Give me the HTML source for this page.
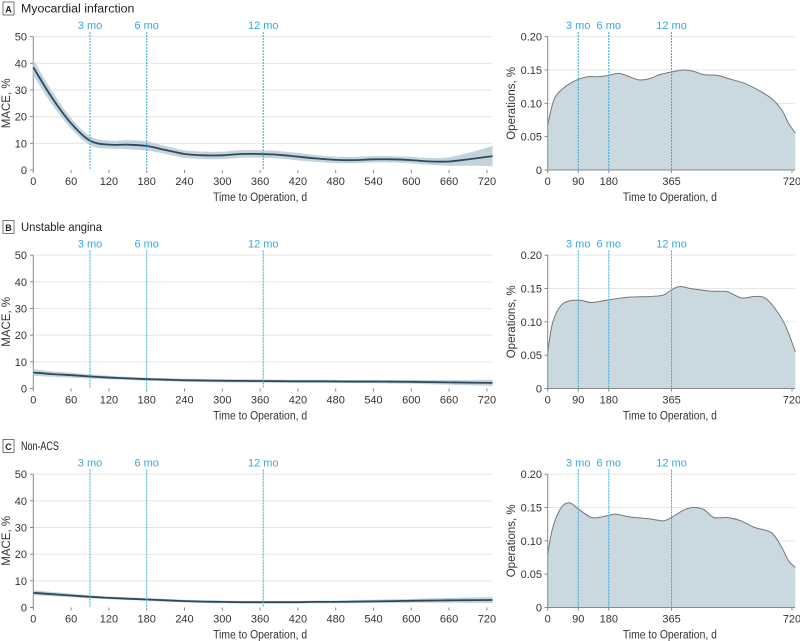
<!DOCTYPE html>
<html><head><meta charset="utf-8">
<style>
body{margin:0;background:#fff;}
svg{display:block;font-family:"Liberation Sans",sans-serif;}
</style></head>
<body>
<svg id="chart" width="800" height="641"></svg>
<script>
// Panel data (days, values)
const panelTitles = ["Myocardial infarction", "Unstable angina", "Non-ACS"];
const panelLetters = ["A", "B", "C"];
const maceDays = [0, 30, 60, 90, 120, 150, 180, 210, 240, 270, 300, 330, 360, 390, 420, 450, 480, 510, 540, 570, 600, 630, 660, 690, 729];
const maceA = [38.5, 27, 17.5, 11, 9.5, 9.5, 9, 7.5, 6, 5.5, 5.5, 6, 6, 5.7, 5, 4.3, 3.8, 3.7, 4, 4, 3.7, 3.2, 3.2, 4, 5.2];
const ciA = [3, 2.5, 2, 1.7, 1.5, 1.7, 1.7, 1.5, 1.4, 1.4, 1.4, 1.4, 1.4, 1.4, 1.4, 1.3, 1.2, 1.2, 1.2, 1.2, 1.2, 1.3, 1.6, 2.4, 3.8];
const maceB = [6, 5.4, 5, 4.5, 4.1, 3.8, 3.5, 3.3, 3.1, 3, 2.9, 2.85, 2.8, 2.75, 2.7, 2.7, 2.65, 2.6, 2.6, 2.55, 2.5, 2.4, 2.3, 2.2, 2.1];
const ciB = [1.2, 1, 0.9, 0.8, 0.7, 0.6, 0.6, 0.6, 0.6, 0.6, 0.6, 0.6, 0.6, 0.6, 0.6, 0.6, 0.6, 0.6, 0.6, 0.7, 0.7, 0.8, 0.9, 1, 1.2];
const maceC = [5.5, 5, 4.5, 4, 3.6, 3.3, 3, 2.7, 2.4, 2.2, 2.1, 2, 2, 2, 2, 2.1, 2.1, 2.2, 2.3, 2.4, 2.5, 2.6, 2.7, 2.75, 2.8];
const ciC = [0.9, 0.8, 0.7, 0.6, 0.5, 0.5, 0.5, 0.5, 0.5, 0.5, 0.5, 0.5, 0.5, 0.5, 0.5, 0.5, 0.5, 0.6, 0.6, 0.7, 0.7, 0.8, 0.9, 1, 1.1];
const densDaysA = [0, 15, 30, 60, 90, 120, 150, 180, 210, 240, 270, 300, 330, 365, 400, 430, 460, 500, 540, 580, 620, 660, 690, 710, 730];
const densA = [0.068, 0.1, 0.115, 0.128, 0.136, 0.14, 0.14, 0.142, 0.145, 0.14, 0.135, 0.137, 0.143, 0.147, 0.15, 0.148, 0.143, 0.142, 0.136, 0.13, 0.12, 0.107, 0.09, 0.07, 0.055];
const densDaysB = [0, 15, 40, 70, 100, 130, 180, 240, 300, 340, 365, 390, 420, 480, 530, 570, 610, 640, 670, 700, 730];
const densB = [0.055, 0.1, 0.125, 0.132, 0.132, 0.129, 0.133, 0.137, 0.138, 0.14, 0.148, 0.153, 0.15, 0.146, 0.145, 0.136, 0.138, 0.136, 0.12, 0.095, 0.055];
const densDaysC = [0, 15, 40, 65, 90, 130, 170, 200, 240, 300, 340, 365, 400, 430, 460, 490, 530, 570, 610, 660, 690, 710, 730];
const densC = [0.08, 0.12, 0.15, 0.157, 0.148, 0.135, 0.137, 0.14, 0.136, 0.133, 0.13, 0.135, 0.146, 0.15, 0.147, 0.135, 0.135, 0.13, 0.12, 0.112, 0.09, 0.07, 0.06];
const leftTicks = [0, 60, 120, 180, 240, 300, 360, 420, 480, 540, 600, 660, 720];
const rightTicks = [0, 90, 180, 365, 720];
const maceTicks = [0, 10, 20, 30, 40, 50];
const opTicks = [0, 0.05, 0.10, 0.15, 0.20];
const opTickLabels = ["0", "0.05", "0.10", "0.15", "0.20"];
const markerDays = [90, 180, 365];
const markerLabels = ["3 mo", "6 mo", "12 mo"];

const NS = "http://www.w3.org/2000/svg";
const svg = document.getElementById("chart");
function mk(tag, attrs, parent, text) {
  const e = document.createElementNS(NS, tag);
  for (const k in attrs) e.setAttribute(k, attrs[k]);
  if (text !== undefined) e.textContent = text;
  (parent || svg).appendChild(e);
  return e;
}
function smooth(pts) {
  let d = "M" + pts[0][0] + "," + pts[0][1];
  for (let i = 0; i < pts.length - 1; i++) {
    const p0 = pts[i - 1] || pts[i], p1 = pts[i], p2 = pts[i + 1], p3 = pts[i + 2] || p2;
    const c1 = [p1[0] + (p2[0] - p0[0]) / 6, p1[1] + (p2[1] - p0[1]) / 6];
    const c2 = [p2[0] - (p3[0] - p1[0]) / 6, p2[1] - (p3[1] - p1[1]) / 6];
    d += " C" + c1[0] + "," + c1[1] + " " + c2[0] + "," + c2[1] + " " + p2[0] + "," + p2[1];
  }
  return d;
}
const maceSeries = [maceA, maceB, maceC];
const ciSeries = [ciA, ciB, ciC];
const densDays = [densDaysA, densDaysB, densDaysC];
const densSeries = [densA, densB, densC];
const offsets = [0, 218.5, 437.5];
const BLUE = "#33aadd";

for (let p = 0; p < 3; p++) {
  const off = offsets[p];
  const g = mk("g", {}, svg);
  
  
  const badge = mk("rect", {x: 3, y: off + 2, width: 11, height: 13, fill: "#fff", stroke: "#555", "stroke-width": 0.8}, g);
  
  
  const lt = mk("text", {x: 8.5, y: off + 12.5, "font-size": 9, "font-weight": "bold", "text-anchor": "middle", fill: "#222"}, g, panelLetters[p]);
  
  
  const tt = mk("text", {x: 21, y: off + 12.5, "font-size": 11.5, fill: "#222", textLength: panelTitles[p].length * 5.4, lengthAdjust: "spacingAndGlyphs"}, g, panelTitles[p]);
  
  

  const lx = d => 33.3 + d * 0.63;
  const ly = v => off + 170 - v * 2.667;
  for (const t of maceTicks) {
    if (t > 0) {
      const gl = mk("line", {x1: 34, x2: 492.7, y1: ly(t), y2: ly(t), stroke: "#e6e6e6", "stroke-width": 1}, g);
      
      
    }
    const tl = mk("text", {x: 27, y: ly(t) + 4, "font-size": 11, "text-anchor": "end", fill: "#333"}, g, String(t));
    
    
    mk("line", {x1: 30, x2: 33.3, y1: ly(t), y2: ly(t), stroke: "#888"}, g);
  }
  mk("line", {x1: 33.3, x2: 33.3, y1: ly(50), y2: ly(0), stroke: "#888"}, g);
  for (const t of leftTicks) {
    mk("line", {x1: lx(t), x2: lx(t), y1: ly(0), y2: ly(0) + 3, stroke: "#888"}, g);
    const xl = mk("text", {x: lx(t), y: off + 185, "font-size": 11, "text-anchor": "middle", fill: "#333"}, g, String(t));
    
    
  }
  const xt = mk("text", {x: lx(360), y: off + 201, "font-size": 11.5, "text-anchor": "middle", fill: "#333", textLength: 94, lengthAdjust: "spacingAndGlyphs"}, g, "Time to Operation, d");
  
  
  const yt = mk("text", {x: 0, y: 0, "font-size": 11.5, "text-anchor": "middle", fill: "#333", transform: "translate(10," + (ly(25)) + ") rotate(-90)"}, g, "MACE, %");
  
  

  const m = maceSeries[p], ci = ciSeries[p];
  const up = maceDays.map((d, i) => [lx(d), ly(m[i] + ci[i])]);
  const lo = maceDays.map((d, i) => [lx(d), ly(Math.max(0, m[i] - ci[i]))]).reverse();
  const band = mk("path", {d: smooth(up) + " L" + smooth(lo).slice(1) + " Z", fill: "#c3d3de"}, g);
  
  
  const line = mk("path", {d: smooth(maceDays.map((d, i) => [lx(d), ly(m[i])])), fill: "none", stroke: "#2e4a5a", "stroke-width": 1.8}, g);
  
  

  const rx = d => 547.7 + d * 0.3393;
  const ry = v => off + 170 - v * 666.7;
  for (let i = 0; i < opTicks.length; i++) {
    const t = opTicks[i];
    if (t > 0) {
      const gl = mk("line", {x1: 548, x2: 795, y1: ry(t), y2: ry(t), stroke: "#e6e6e6"}, g);
      
      
    }
    const tl = mk("text", {x: 542, y: ry(t) + 4, "font-size": 11, "text-anchor": "end", fill: "#333"}, g, opTickLabels[i]);
    
    
    mk("line", {x1: 544.5, x2: 547.7, y1: ry(t), y2: ry(t), stroke: "#888"}, g);
  }
  const dd = densDays[p], dv = densSeries[p];
  const dpts = dd.map((d, i) => [rx(d), ry(dv[i])]);
  const area = mk("path", {d: smooth(dpts) + " L" + rx(dd[dd.length - 1]) + "," + ry(0) + " L" + rx(0) + "," + ry(0) + " Z", fill: "#cad8e0"}, g);
  
  
  const dl = mk("path", {d: smooth(dpts), fill: "none", stroke: "#777", "stroke-width": 1}, g);
  
  
  mk("line", {x1: 547.7, x2: 547.7, y1: ry(0.2), y2: ry(0), stroke: "#888"}, g);
  mk("line", {x1: 547.7, x2: 795, y1: ry(0), y2: ry(0), stroke: "#888"}, g);
  for (const t of rightTicks) {
    mk("line", {x1: rx(t), x2: rx(t), y1: ry(0), y2: ry(0) + 3, stroke: "#888"}, g);
    const xl = mk("text", {x: rx(t), y: off + 185, "font-size": 11, "text-anchor": "middle", fill: "#333"}, g, String(t));
    
    
  }
  const xt2 = mk("text", {x: rx(360), y: off + 201, "font-size": 11.5, "text-anchor": "middle", fill: "#333", textLength: 94, lengthAdjust: "spacingAndGlyphs"}, g, "Time to Operation, d");
  
  
  const yt2 = mk("text", {x: 0, y: 0, "font-size": 11.5, "text-anchor": "middle", fill: "#333", transform: "translate(515," + ry(0.1) + ") rotate(-90)"}, g, "Operations, %");
  
  

  for (let i = 0; i < markerDays.length; i++) {
    for (const sx of [lx, rx]) {
      const x = sx(markerDays[i]);
      const ml = mk("line", {x1: x, x2: x, y1: off + 32, y2: off + 170, stroke: BLUE, "stroke-width": 1, "stroke-dasharray": "2,1"}, g);
      
      
      const mt = mk("text", {x: x, y: off + 29, "font-size": 11, "text-anchor": "middle", fill: BLUE}, g, markerLabels[i]);
      
      
    }
  }
}
</script>
</body></html>
